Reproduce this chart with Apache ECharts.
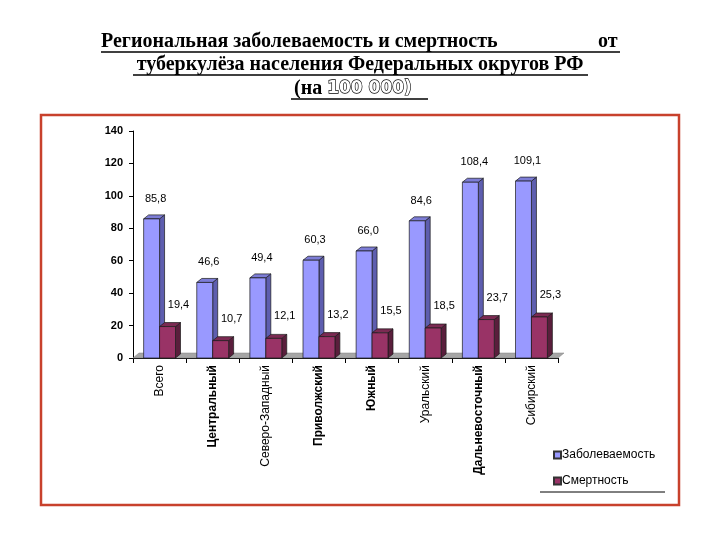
<!DOCTYPE html>
<html>
<head>
<meta charset="utf-8">
<script src="https://cdn.jsdelivr.net/npm/echarts@6/dist/echarts.min.js"></script>
<style>html,body{margin:0;padding:0;background:#fff}#c{width:720px;height:540px}</style>
</head>
<body>
<div id="c"></div>
<script>
var categories = ['Всего','Центральный','Северо-Западный','Приволжский','Южный','Уральский','Дальневосточный','Сибирский'];
var boldCategories = ['Центральный','Приволжский','Южный','Дальневосточный'];
var incidence = [85.8, 46.6, 49.4, 60.3, 66.0, 84.6, 108.4, 109.1];
var mortality = [19.4, 10.7, 12.1, 13.2, 15.5, 18.5, 23.7, 25.3];
var seriesNames = ['Заболеваемость', 'Смертность'];
var yTicks = [0, 20, 40, 60, 80, 100, 120, 140];

var chart = echarts.init(document.getElementById('c'), null, {renderer: 'canvas'});

function fmt(v){ return v.toFixed(1).replace('.', ','); }

function bar3D(side, front, sideCol, topCol, labelDx, labelDy){
  return function(params, api){
    var i = api.value(0), v = api.value(1);
    var base = api.coord([i, 0]);
    var top = api.coord([i, v]);
    var band = api.size([1, 0])[0];
    var w = band * 0.3;
    var x0 = side < 0 ? base[0] - w : base[0];
    var x1 = x0 + w;
    var yb = base[1], yt = top[1];
    var d = 5, h = 4;
    var st = {stroke: '#1a1a1a', lineWidth: 0.7};
    return {
      type: 'group',
      children: [
        {type: 'polygon', shape: {points: [[x1, yb], [x1 + d, yb - h], [x1 + d, yt - h], [x1, yt]]},
          style: Object.assign({fill: sideCol}, st)},
        {type: 'polygon', shape: {points: [[x0, yt], [x1, yt], [x1 + d, yt - h], [x0 + d, yt - h]]},
          style: Object.assign({fill: topCol}, st)},
        {type: 'rect', shape: {x: x0, y: yt, width: w, height: yb - yt},
          style: Object.assign({fill: front}, st)},
        {type: 'text', style: {text: fmt(v), x: (x0 + x1) / 2 + labelDx, y: yt + labelDy,
          align: 'center', verticalAlign: 'middle', fill: '#000',
          fontSize: 11, fontFamily: 'Liberation Sans'}}
      ]
    };
  };
}

function floorItem(params, api){
  var n = categories.length;
  var band = api.size([1, 0])[0];
  var a = api.coord([0, 0]);
  var b = api.coord([n - 1, 0]);
  var xl = a[0] - band / 2, xr = b[0] + band / 2, y = a[1];
  return {type: 'polygon', shape: {points: [[xl, y], [xr, y], [xr + 6, y - 5], [xl + 6, y - 5]]},
    style: {fill: '#a6a6a6', stroke: '#808080', lineWidth: 0.5}, z2: -1};
}

function titleStyle(text){
  return {text: text, fill: '#000', fontSize: 20, fontWeight: 'bold', fontFamily: 'Liberation Serif'};
}

var option = {
  animation: false,
  backgroundColor: '#fff',
  grid: {left: 133, right: 162, top: 131, bottom: 182, containLabel: false},
  legend: {
    orient: 'vertical', left: 548, top: 444, itemGap: 14,
    itemWidth: 7, itemHeight: 7, icon: 'rect',
    textStyle: {fontSize: 12, fontFamily: 'Liberation Sans', color: '#000', padding: [0, 0, 0, -4]},
    data: seriesNames
  },
  xAxis: {
    type: 'category',
    data: categories.map(function(c){
      return {value: c, textStyle: {fontWeight: boldCategories.indexOf(c) >= 0 ? 'bold' : 'normal'}};
    }),
    axisLine: {show: true, lineStyle: {color: '#000', width: 1}},
    axisTick: {show: true, length: 5, lineStyle: {color: '#000'}},
    axisLabel: {rotate: 90, margin: 7, fontSize: 12, color: '#000', fontFamily: 'Liberation Sans'},
    splitLine: {show: false}
  },
  yAxis: {
    type: 'value', min: yTicks[0], max: yTicks[yTicks.length - 1], interval: yTicks[1] - yTicks[0],
    axisLine: {show: true, lineStyle: {color: '#000', width: 1}},
    axisTick: {show: true, length: 4, lineStyle: {color: '#000'}},
    axisLabel: {margin: 10, fontSize: 11, fontWeight: 'bold', color: '#000', fontFamily: 'Liberation Sans'},
    splitLine: {show: false}
  },
  series: [
    {type: 'custom', name: 'floor', data: [[0, 0]], renderItem: floorItem, silent: true, z: 1, encode: {x: 0, y: 1}},
    {type: 'custom', name: seriesNames[0], z: 2,
      itemStyle: {color: '#9999ff', borderColor: '#333', borderWidth: 1},
      data: incidence.map(function(v, i){ return [i, v]; }),
      encode: {x: 0, y: 1},
      renderItem: bar3D(-1, '#9999ff', '#5e5eaf', '#7d7dd6', 4, -20)},
    {type: 'custom', name: seriesNames[1], z: 3,
      itemStyle: {color: '#993366', borderColor: '#333', borderWidth: 1},
      data: mortality.map(function(v, i){ return [i, v]; }),
      encode: {x: 0, y: 1},
      renderItem: bar3D(1, '#993366', '#5a1e3c', '#7b2a52', 11, -22)}
  ],
  graphic: [
    {type: 'rect', shape: {x: 41, y: 115, width: 638, height: 390},
      style: {fill: 'none', stroke: '#c8412c', lineWidth: 2.5}},
    {type: 'line', shape: {x1: 540, y1: 492, x2: 665, y2: 492}, style: {stroke: '#000', lineWidth: 1}},
    {type: 'text', left: 101, top: 32, style: titleStyle('Региональная заболеваемость и смертность')},
    {type: 'text', left: 598, top: 32, style: titleStyle('от')},
    {type: 'line', shape: {x1: 101, y1: 52, x2: 620, y2: 52}, style: {stroke: '#000', lineWidth: 1.5}},
    {type: 'text', left: 'center', top: 55, style: titleStyle('туберкулёза населения Федеральных округов РФ')},
    {type: 'line', shape: {x1: 133, y1: 75, x2: 588, y2: 75}, style: {stroke: '#000', lineWidth: 1.5}},
    {type: 'text', left: 294, top: 79,
      style: {
        text: '{a|(на }{b|100 000)}',
        rich: {
          a: {fill: '#000', fontSize: 20, fontWeight: 'bold', fontFamily: 'Liberation Serif'},
          b: {fill: '#fff', stroke: '#000', lineWidth: 1.3, fontSize: 17, fontWeight: 'bold', fontFamily: 'DejaVu Sans'}
        }
      }},
    {type: 'line', shape: {x1: 291, y1: 99, x2: 428, y2: 99}, style: {stroke: '#000', lineWidth: 1.5}}
  ]
};
chart.setOption(option);
</script>
</body>
</html>
